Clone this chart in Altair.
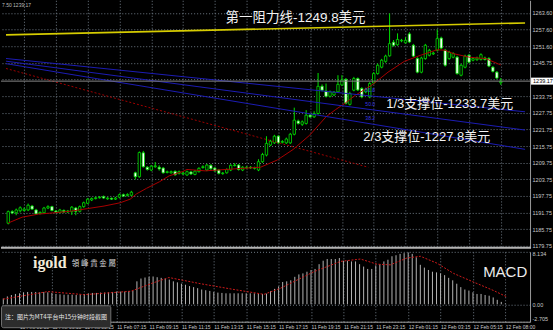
import altair as alt
import pandas as pd

# ---------------- data ----------------
opens = [1187.9,1192.1,1191.7,1192.4,1192.5,1192.7,1194.1,1192.7,1191.5,1191.7,
1193.4,1193.9,1192.3,1191.8,1192.5,1192.0,1192.1,1193.4,1192.2,1193.9,
1195.1,1196.3,1196.8,1197.1,1197.5,1196.7,1196.9,1196.6,1197.3,1198.2,
1197.9,1198.0,1206.1,1204.7,1213.3,1208.1,1207.1,1208.3,1208.1,1207.8,
1206.2,1206.1,1206.6,1205.9,1205.7,1205.3,1206.4,1205.5,1206.5,1208.0,
1207.1,1208.8,1207.8,1207.1,1205.8,1206.1,1207.1,1208.7,1208.9,1207.1,
1207.9,1208.1,1207.7,1207.1,1210.1,1212.5,1216.1,1216.9,1219.3,1217.1,
1216.9,1216.9,1220.0,1224.8,1223.6,1223.9,1226.9,1226.3,1227.5,1237.3,
1235.6,1233.7,1234.2,1235.3,1237.8,1239.8,1230.8,1235.9,1240.1,1236.5,
1235.3,1233.5,1238.5,1241.9,1244.2,1246.3,1248.3,1253.2,1252.3,1253.7,
1253.0,1256.2,1252.1,1247.3,1242.4,1247.3,1248.5,1249.0,1250.3,1254.7,
1250.3,1247.3,1247.8,1247.8,1241.3,1244.2,1248.5,1246.7,1246.9,1247.0,
1247.5,1247.3,1244.2,1242.4,1238.6]
highs = [1192.5,1192.6,1193.2,1194.0,1193.6,1195.0,1194.5,1193.1,1192.2,1193.8,
1194.4,1194.2,1192.7,1193.1,1192.9,1192.7,1194.1,1193.8,1194.3,1195.7,
1197.0,1197.2,1197.5,1197.7,1197.9,1197.3,1197.2,1197.4,1198.6,1198.6,
1198.7,1199.6,1206.5,1213.8,1214.0,1208.5,1208.9,1210.0,1208.8,1208.2,
1206.9,1206.9,1207.0,1206.9,1206.4,1206.9,1206.8,1207.1,1208.1,1208.8,
1209.3,1209.2,1208.2,1207.5,1206.4,1207.7,1209.2,1209.6,1209.3,1208.5,
1208.5,1208.5,1208.3,1211.0,1213.3,1219.3,1218.0,1219.8,1219.7,1217.9,
1218.8,1220.5,1229.6,1225.3,1225.0,1228.7,1227.3,1228.3,1242.1,1238.0,
1238.3,1235.8,1235.6,1241.3,1241.3,1240.3,1235.3,1240.7,1240.5,1237.0,
1236.8,1238.8,1242.4,1245.5,1247.2,1248.7,1263.6,1254.0,1256.4,1254.4,
1255.0,1256.8,1252.6,1247.8,1248.0,1252.6,1250.8,1249.8,1257.8,1255.2,
1250.8,1250.1,1249.6,1248.3,1245.4,1248.7,1249.0,1247.8,1248.0,1249.2,
1248.0,1247.8,1244.6,1242.8,1240.3]
lows = [1187.5,1191.2,1190.8,1191.8,1192.1,1192.3,1192.7,1190.9,1191.1,1191.3,
1193.0,1192.2,1191.5,1191.4,1191.6,1191.6,1190.9,1190.8,1191.8,1193.5,
1194.8,1195.9,1196.5,1196.8,1196.7,1196.4,1196.3,1196.3,1196.9,1197.4,
1197.6,1197.7,1203.7,1204.3,1208.0,1206.9,1206.7,1207.9,1206.9,1205.8,
1205.9,1205.8,1205.0,1205.5,1205.3,1205.0,1205.3,1205.2,1206.2,1207.6,
1206.7,1207.2,1206.5,1205.5,1205.4,1205.8,1206.7,1208.4,1206.9,1206.7,
1207.6,1207.5,1207.3,1206.7,1209.7,1212.0,1215.7,1216.5,1216.5,1216.7,
1216.5,1216.5,1219.6,1223.5,1223.0,1223.5,1225.9,1225.9,1227.1,1235.5,
1233.3,1233.3,1233.8,1234.9,1237.4,1230.8,1230.4,1235.5,1235.6,1233.0,
1234.8,1233.0,1238.1,1241.5,1243.8,1245.8,1248.0,1251.6,1251.9,1253.2,
1252.7,1252.9,1247.8,1242.0,1242.0,1246.9,1248.1,1248.6,1249.9,1250.7,
1244.4,1246.9,1247.4,1241.5,1240.9,1243.8,1245.6,1246.3,1246.5,1246.6,
1246.6,1244.2,1242.3,1239.9,1237.8]
closes = [1192.1,1191.6,1192.7,1193.5,1193.0,1194.4,1193.0,1191.3,1191.8,1193.4,
1193.9,1192.5,1191.9,1192.7,1192.0,1192.3,1193.7,1192.2,1193.9,1195.3,
1196.6,1196.8,1197.1,1197.3,1197.0,1197.0,1196.6,1197.0,1198.2,1197.7,
1198.3,1199.1,1204.7,1213.4,1208.3,1207.3,1208.5,1208.6,1207.5,1206.1,
1206.5,1206.5,1205.4,1206.5,1206.0,1206.5,1205.7,1206.7,1207.7,1208.3,
1208.9,1207.6,1206.8,1205.9,1206.0,1207.3,1208.8,1208.9,1207.3,1208.1,
1208.1,1207.9,1207.9,1210.1,1212.7,1216.7,1217.5,1219.3,1216.9,1217.4,
1218.3,1220.0,1225.1,1223.9,1224.5,1226.9,1226.3,1227.5,1237.3,1235.9,
1233.7,1235.3,1235.2,1238.0,1239.6,1231.2,1234.7,1240.1,1236.0,1233.5,
1236.3,1238.3,1241.9,1244.9,1246.7,1248.2,1252.7,1252.1,1254.2,1253.9,
1253.9,1253.3,1248.2,1242.4,1247.5,1252.1,1250.3,1249.3,1254.5,1251.1,
1244.9,1249.6,1249.1,1241.9,1244.9,1248.2,1246.0,1247.3,1247.5,1248.7,
1247.0,1244.6,1242.7,1240.3,1239.17]
bar_index = list(range(1, 126))

ma_index = [1, 4.5, 8.6, 12.8, 16.9, 21, 25.1, 29.2, 31.7, 33.3, 35.8, 39.1, 41.5,
            44.8, 46, 50.6, 58.8, 64.5, 68.7, 72.7, 76.9, 81, 83.4, 85.9, 88.4,
            92.5, 96.6, 100.7, 104.8, 109, 111, 113, 117.1, 121.2, 125]
ma_value = [1188.0, 1190.1, 1191.2, 1191.7, 1192.3, 1193.2, 1194.1, 1195.3, 1196.6,
            1198.5, 1200.5, 1202.9, 1205.0, 1206.5, 1207.3, 1206.8, 1207.6, 1208.1,
            1210.7, 1214.5, 1219.7, 1226.3, 1228.9, 1231.3, 1234.1, 1237.7, 1242.4,
            1246.3, 1248.5, 1250.5, 1250.3, 1249.1, 1247.8, 1247.3, 1245.0]

macd_hist = [0.90,1.22,1.44,1.60,1.70,1.86,1.91,1.91,1.91,1.86,
1.91,1.86,1.76,1.60,1.54,1.49,1.49,1.49,1.44,1.49,
1.60,1.70,1.76,1.76,1.81,1.81,1.86,1.91,1.97,1.97,
1.97,2.07,2.13,3.56,3.99,4.15,4.26,4.31,4.20,4.10,
3.99,3.83,3.56,3.40,3.19,3.03,2.82,2.66,2.50,2.29,
2.18,2.07,1.91,1.81,1.76,1.70,1.70,1.70,1.70,1.70,
1.70,1.70,1.70,1.60,1.60,1.65,2.02,2.39,2.77,3.46,
3.56,3.72,4.26,4.63,4.79,5.05,5.32,5.48,6.22,6.76,
7.02,7.02,7.02,7.18,6.76,6.76,6.65,6.65,6.22,5.85,
5.48,5.48,6.01,6.22,6.65,6.91,7.45,7.61,7.82,7.93,
7.98,7.82,7.29,6.12,5.69,5.32,5.05,4.95,4.79,4.52,
4.10,3.72,3.19,2.66,2.29,2.13,1.86,1.60,1.60,1.44,
1.33,1.06,0.69,0.37,0.11]
signal_index = [1, 12, 21, 32.5, 37.4, 41.9, 49.7, 58, 65.4, 69.5, 77.7, 84.3, 89.2,
                93.3, 96.6, 100.7, 104, 108.1, 112.2, 117.1, 122.1, 125.3]
signal_value = [0.80, 1.97, 1.49, 2.02, 3.19, 4.15, 3.19, 2.29, 1.54, 2.50, 5.05, 6.65,
                7.02, 6.22, 6.12, 7.18, 7.45, 6.38, 4.79, 3.46, 2.13, 1.17]

price_ticks = [1179.75, 1185.75, 1191.75, 1197.75, 1203.75, 1209.75, 1215.75, 1221.75,
               1227.75, 1233.75, 1239.75, 1245.75, 1251.75, 1257.75, 1263.75]
price_labels = ["1179.75", "1185.75", "1191.75", "1197.75", "1203.75", "1209.75", "1215.75",
                "1221.75", "1227.75", "1233.75", "", "1245.75", "1251.60", "1257.60", "1263.60"]
current_price = [1239.17]
current_label = ["1239.17"]

time_ticks = [5, 13, 21, 29, 37, 45, 53, 61, 69, 77, 85, 93, 101, 109, 117, 125]
time_labels = ["11 Feb 01:15", "11 Feb 03:15", "11 Feb 05:15", "11 Feb 07:15", "11 Feb 09:15",
               "11 Feb 11:15", "11 Feb 13:15", "11 Feb 15:15", "11 Feb 17:15", "11 Feb 19:15",
               "11 Feb 21:15", "11 Feb 23:15", "12 Feb 01:15", "12 Feb 03:15", "12 Feb 05:15",
               "12 Feb 08:00"]

macd_ticks = [-2.705, 0, 8.134]
macd_labels = ["-2.705", "0.00", "8.134"]

# drawn lines: (bar index, price) end points
resist_index = [0.43, 131.1]
resist_price = [1255.84, 1260.16]
fan_names = ["61.8", "50.0", "38.2"]
fan_start_index = 0.43
fan_end_index = 131.1
fan_start_price = [1247.34, 1246.37, 1245.47]
fan_end_price = [1228.11, 1221.52, 1214.57]
fan_label_index = [90.9, 90.9, 90.9]
fan_label_price = [1235.9, 1230.9, 1225.8]
red_trend_index = [0.43, 91.65]
red_trend_price = [1243.74, 1208.09]

# ---------------- tables ----------------
candles = pd.DataFrame({"i": bar_index, "o": opens, "h": highs, "l": lows, "c": closes})
candles["dir"] = ["up" if c >= o else "down" for o, c in zip(opens, closes)]
ma_df = pd.DataFrame({"i": ma_index, "p": ma_value})
macd_df = pd.DataFrame({"i": bar_index, "v": macd_hist})
sig_df = pd.DataFrame({"i": signal_index, "v": signal_value})
resist_df = pd.DataFrame({"i": resist_index, "p": resist_price})
fan_rows = []
for n, a, b in zip(fan_names, fan_start_price, fan_end_price):
    fan_rows.append({"name": n, "i": fan_start_index, "p": a})
    fan_rows.append({"name": n, "i": fan_end_index, "p": b})
fan_df = pd.DataFrame(fan_rows)
fan_lbl_df = pd.DataFrame({"name": fan_names, "i": fan_label_index, "p": fan_label_price})
red_df = pd.DataFrame({"i": red_trend_index, "p": red_trend_price})
cur_df = pd.DataFrame({"p": current_price, "lbl": current_label})
one = pd.DataFrame({"a": [0]})

LIME = "#00e000"
GRID = "#6f7a86"
TXT = "#c8c8c8"
FONT = "Liberation Sans"
CJK = "Liberation Sans, Noto Sans CJK SC"


def js_list(items):
    return "[" + ",".join("'" + s + "'" for s in items) + "]"


x_scale = alt.Scale(domain=[0.43, 131.1], nice=False, zero=False)
p_scale = alt.Scale(domain=[1179.03, 1268.33], nice=False, zero=False)
m_scale = alt.Scale(domain=[-2.705, 8.134], nice=False, zero=False)

x_axis_main = alt.Axis(orient="bottom", values=time_ticks, labels=False, ticks=False,
                       domain=False, title=None, grid=True, gridColor=GRID,
                       gridDash=[1, 2], gridWidth=1, minExtent=0, maxExtent=0)
y_axis_main = alt.Axis(orient="right", values=price_ticks,
                       labelExpr=js_list(price_labels) + "[round((datum.value-1179.75)/6)]",
                       ticks=False, domain=True, domainColor="#9a9a9a", title=None,
                       grid=True, gridColor=GRID, gridDash=[1, 2], gridWidth=1,
                       labelColor=TXT, labelFont=FONT, labelFontSize=5.5, labelPadding=2,
                       labelBaseline="middle", labelFlush=False, labelOverlap=False,
                       minExtent=20, maxExtent=23)
x_axis_macd = alt.Axis(orient="bottom", values=time_ticks,
                       labelExpr=js_list(time_labels) + "[round((datum.value-5)/8)]",
                       ticks=False, domain=True, domainColor="#9a9a9a", title=None,
                       grid=True, gridColor=GRID, gridDash=[1, 2], gridWidth=1,
                       labelColor=TXT, labelFont=FONT, labelFontSize=5, labelPadding=3,
                       labelAlign="left", labelBaseline="top", labelFlush=False,
                       labelOverlap=False, labelBound=False)
y_axis_macd = alt.Axis(orient="right", values=macd_ticks,
                       labelExpr=js_list(macd_labels) + "[datum.value < -1 ? 0 : (datum.value > 1 ? 2 : 1)]",
                       ticks=False, domain=True, domainColor="#9a9a9a", title=None,
                       grid=True, gridColor=GRID, gridDash=[1, 2], gridWidth=1,
                       labelColor=TXT, labelFont=FONT, labelFontSize=5.5, labelPadding=2,
                       labelFlush=True, labelOverlap=False, minExtent=20, maxExtent=23)


def X(f):
    return alt.X(f + ":Q", scale=x_scale, axis=x_axis_main)


def Y(f):
    return alt.Y(f + ":Q", scale=p_scale, axis=y_axis_main)


def XM(f):
    return alt.X(f + ":Q", scale=x_scale, axis=x_axis_macd)


def YM(f):
    return alt.Y(f + ":Q", scale=m_scale, axis=y_axis_macd)


def label(text, x, y, size, color, font=FONT, weight="normal", align="left"):
    return alt.Chart(pd.DataFrame({"t": [text]})).mark_text(
        fontSize=size, color=color, font=font, fontWeight=weight, align=align,
        baseline="middle").encode(x=alt.value(x), y=alt.value(y), text="t:N")


# ---------------- main panel ----------------
wicks = alt.Chart(candles).mark_rule(color=LIME, strokeWidth=1).encode(
    x=X("i"), y=Y("l"), y2=alt.Y2("h"))
bodies = alt.Chart(candles).mark_bar(size=2.4, stroke=LIME, strokeWidth=0.8).encode(
    x=X("i"), y=Y("o"), y2=alt.Y2("c"),
    fill=alt.Fill("dir:N", scale=alt.Scale(domain=["up", "down"], range=["#000000", "#ffffff"]),
                  legend=None))
ma_line = alt.Chart(ma_df).mark_line(color="#a80000", strokeWidth=1).encode(x=X("i"), y=Y("p"))
resist = alt.Chart(resist_df).mark_line(color="#d6cc00", strokeWidth=1.6).encode(x=X("i"), y=Y("p"))
fans = alt.Chart(fan_df).mark_line(color="#1c1cb4", strokeWidth=1).encode(
    x=X("i"), y=Y("p"), detail="name:N")
fan_lbls = alt.Chart(fan_lbl_df).mark_text(fontSize=5, color="#3a3ae0", font=FONT,
                                           align="left", baseline="middle").encode(
    x=X("i"), y=Y("p"), text="name:N")
red_trend = alt.Chart(red_df).mark_line(color="#a00000", strokeWidth=1, strokeDash=[2, 2]).encode(
    x=X("i"), y=Y("p"))
price_line = alt.Chart(cur_df).mark_rule(color="#858585", strokeWidth=1).encode(
    y=Y("p"), x=alt.value(0), x2=alt.value(530))
price_box = alt.Chart(cur_df).mark_rect(color="#ffffff", yOffset=-3.5, y2Offset=3.5).encode(
    y=Y("p"), y2=alt.Y2("p"), x=alt.value(531), x2=alt.value(553))
price_txt = alt.Chart(cur_df).mark_text(fontSize=5.5, color="#000000", font=FONT,
                                        align="left", baseline="middle").encode(
    y=Y("p"), x=alt.value(533), text="lbl:N")
separator = alt.Chart(one).mark_rule(color="#b4b4b4", strokeWidth=2).encode(
    y=alt.value(248), x=alt.value(0), x2=alt.value(531))

main = alt.layer(
    wicks, bodies, ma_line, resist, fans, fan_lbls, red_trend, price_line,
    label("第一阻力线-1249.8美元", 225, 18, 13.5, "#f2f2f2", font=CJK),
    label("1/3支撑位-1233.7美元", 386, 104, 13, "#f2f2f2", font=CJK),
    label("2/3支撑位-1227.8美元", 363, 137, 13, "#f2f2f2", font=CJK),
    label("7.50 1239.17", 1, 5, 5, "#bdbdbd"),
    price_box, price_txt, separator,
).properties(width=530, height=248)

# ---------------- MACD panel ----------------
hist = alt.Chart(macd_df).mark_rule(color="#b4b4b4", strokeWidth=1).encode(
    x=XM("i"), y=YM("v"), y2=alt.datum(0))
signal = alt.Chart(sig_df).mark_line(color="#cc1a1a", strokeWidth=1, strokeDash=[2, 1.5]).encode(
    x=XM("i"), y=YM("v"))
note_box = alt.Chart(one).mark_rect(fill="#2c2c2c", stroke="#707070", strokeWidth=1,
                                    cornerRadius=2).encode(
    x=alt.value(0.5), x2=alt.value(110), y=alt.value(54), y2=alt.value(76))

macd = alt.layer(
    hist, signal,
    label("igold", 32, 11, 16, "#f3ead8", font="Liberation Serif", weight="bold"),
    label("領  峰  貴  金  屬", 71, 12, 7.5, "#d8d8d8", font="Noto Sans CJK TC"),
    label("MACD", 483, 20, 15, "#ececec"),
    note_box,
    label("注：图片为MT4平台中15分钟时段截图", 4, 65, 6, "#e6e6e6", font="Noto Sans CJK SC"),
).properties(width=530, height=70)

chart = alt.vconcat(main, macd, spacing=2).properties(
    padding=0, background="#000000"
).configure_view(stroke=None)

chart.save("out.html", embed_options={"renderer": "svg", "actions": False})
